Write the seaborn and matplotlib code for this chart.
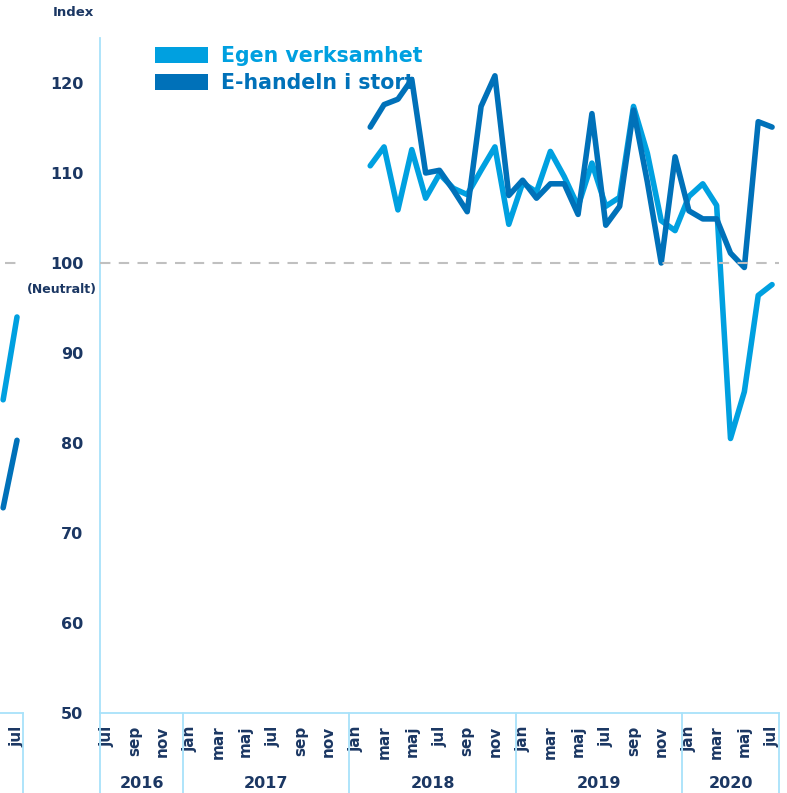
"""Index chart: Egen verksamhet vs E-handeln i stort, monthly 2016-2020."""

import matplotlib

matplotlib.use("Agg")
import matplotlib.pyplot as plt
import matplotlib.transforms as mtransforms
import pandas as pd
import seaborn as sns
from matplotlib.patches import Patch

# --- data -------------------------------------------------------------
month_abbr = ["jan", "feb", "mar", "apr", "maj", "jun",
              "jul", "aug", "sep", "okt", "nov", "dec"]
years = [2016, 2017, 2018, 2019, 2020]
start = (2016, 7)
end = (2020, 7)
data_start = (2018, 2)

series_names = ["Egen verksamhet", "E-handeln i stort"]
egen = [110.8, 112.9, 105.9, 112.6, 107.2, 109.9, 108.3, 107.6, 110.3, 112.9,
        104.3, 108.9, 107.9, 112.4, 109.6, 106.3, 111.1, 106.3, 107.3, 117.4,
        112.2, 104.7, 103.6, 107.4, 108.8, 106.4, 80.5, 85.7, 96.4, 97.6]
ehandel = [115.1, 117.6, 118.2, 120.4, 110.0, 110.3, 108.1, 105.7, 117.4, 120.8,
           107.5, 109.2, 107.2, 108.8, 108.8, 105.4, 116.6, 104.2, 106.3, 117.0,
           109.0, 100.0, 111.8, 105.8, 104.9, 104.9, 101.1, 99.5, 115.7, 115.1]

# cut-off piece of the previous panel at the far left
frag_months = ["jun", "jul"]
frag_egen = [84.8, 94.0]
frag_ehandel = [72.8, 80.3]

yticks = [50, 60, 70, 80, 90, 100, 110, 120]

# --- style ------------------------------------------------------------
LIGHT = "#00a0e0"
DARK = "#0071b9"
NAVY = "#1b3763"
EDGE = "#a8e2fa"
GREY = "#c0c0c0"
LW = 4.0

sns.set_theme(style="white")
plt.rcParams["font.family"] = ["DejaVu Sans"]
plt.rcParams["font.weight"] = "bold"

W, H = 787, 793
fig = plt.figure(figsize=(W / 100, H / 100), dpi=100)
ax_bottom = (H - 713) / H
ax_height = 675 / H
ax = fig.add_axes([100 / W, ax_bottom, 679 / W, ax_height])
frag = fig.add_axes([0, ax_bottom, 23 / W, ax_height])

# --- build the timeline ----------------------------------------------
timeline = []
y, m = start
while (y, m) <= end:
    timeline.append((y, m))
    m += 1
    if m > 12:
        y, m = y + 1, 1
pos = {ym: i for i, ym in enumerate(timeline)}
first = pos[data_start]

rows = []
for name, vals in zip(series_names, [egen, ehandel]):
    for k, v in enumerate(vals):
        rows.append({"x": first + k, "value": v, "serie": name})
df = pd.DataFrame(rows)

palette = {series_names[0]: LIGHT, series_names[1]: DARK}
sns.lineplot(data=df, x="x", y="value", hue="serie", hue_order=series_names,
             palette=palette, linewidth=LW, legend=False, ax=ax, zorder=3,
             solid_capstyle="round", solid_joinstyle="round")
ax.axhline(100, color=GREY, lw=1.5, ls=(0, (5, 4)), zorder=4)

ax.set_xlim(-0.5, len(timeline) - 0.5)
ax.set_ylim(50, 125)
ax.set_yticks(yticks)
ax.set_yticklabels([str(t) for t in yticks], color=NAVY, fontsize=11.5,
                   fontweight="bold")
ax.tick_params(axis="y", length=0, pad=12)

tick_pos = [i for i, (yy, mm) in enumerate(timeline) if mm % 2 == 1]
ax.set_xticks(tick_pos)
ax.set_xticklabels([month_abbr[timeline[i][1] - 1] for i in tick_pos],
                   rotation=90, color=NAVY, fontsize=11, fontweight="bold",
                   va="top", ha="center")
ax.tick_params(axis="x", length=0, pad=9)
ax.set_xlabel("")
ax.set_ylabel("")

for side in ["top", "right"]:
    ax.spines[side].set_visible(False)
for side in ["left", "bottom"]:
    ax.spines[side].set_color(EDGE)
    ax.spines[side].set_linewidth(1.3)

# year separators below the axis, plus year labels
below = -(80 / 675)
trans = mtransforms.blended_transform_factory(ax.transData, ax.transAxes)
bounds = [-0.5]
for yr in years:
    idx = [i for i, (yy, mm) in enumerate(timeline) if yy == yr]
    bounds.append(idx[-1] + 0.5)
    ax.text((idx[0] + idx[-1]) / 2, -(71 / 675), str(yr), transform=trans,
            ha="center", va="center", color=NAVY, fontsize=11.5,
            fontweight="bold")
for b in bounds:
    ax.plot([b, b], [0, below], transform=trans, color=EDGE, lw=1.3,
            clip_on=False)

fig.text(73 / W, 1 - 13 / H, "Index", ha="center", va="center", color=NAVY,
         fontsize=9.5, fontweight="bold")
fig.text(97 / W, 1 - 290 / H, "(Neutralt)", ha="right", va="center",
         color=NAVY, fontsize=9, fontweight="bold")

handles = [Patch(facecolor=LIGHT, edgecolor="none"),
           Patch(facecolor=DARK, edgecolor="none")]
leg = ax.legend(handles, series_names, loc="upper left",
                bbox_to_anchor=(155 / W, 1 - 46 / H),
                bbox_transform=fig.transFigure, frameon=False, borderpad=0,
                borderaxespad=0, handlelength=2.6, handleheight=0.85,
                handletextpad=0.62, labelspacing=0.36,
                prop={"family": "DejaVu Sans", "weight": "bold", "size": 14.8})
for txt, col in zip(leg.get_texts(), [LIGHT, DARK]):
    txt.set_color(col)
leg.set_zorder(1)

# --- left fragment -------------------------------------------------------
fx = list(range(len(frag_months)))
sns.lineplot(x=fx, y=frag_egen, color=LIGHT, linewidth=LW, ax=frag,
             solid_capstyle="round")
sns.lineplot(x=fx, y=frag_ehandel, color=DARK, linewidth=LW, ax=frag,
             solid_capstyle="round")
frag.axhline(100, xmin=0.2, color=GREY, lw=1.5, ls=(0, (5, 4)))
frag.set_xlim(fx[-1] - 17 / 13.86, fx[-1] + 6 / 13.86)
frag.set_ylim(50, 125)
frag.set_yticks([])
frag.set_xticks([fx[-1]])
frag.set_xticklabels([frag_months[-1]], rotation=90, color=NAVY, fontsize=11,
                     fontweight="bold", va="top", ha="center")
frag.tick_params(axis="x", length=0, pad=9)
for side in ["top", "right", "left"]:
    frag.spines[side].set_visible(False)
frag.spines["bottom"].set_color(EDGE)
frag.spines["bottom"].set_linewidth(1.3)
ftrans = mtransforms.blended_transform_factory(frag.transAxes, frag.transAxes)
frag.plot([1, 1], [0, below], transform=ftrans, color=EDGE, lw=1.3,
          clip_on=False)
frag.patch.set_alpha(0)

fig.savefig("out.png", dpi=100)
